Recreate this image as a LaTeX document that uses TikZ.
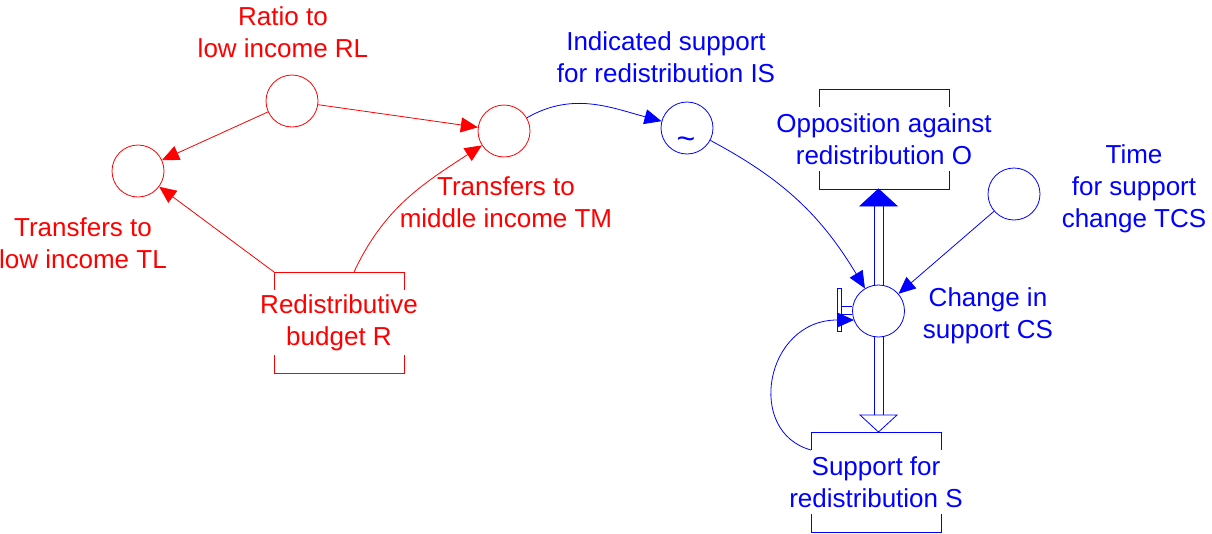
\documentclass[tikz,border=0pt]{standalone}
\usepackage{fontspec}
\setmainfont{Liberation Sans}
\usetikzlibrary{arrows.meta,calc}
\definecolor{myred}{RGB}{255,0,0}
\definecolor{myblue}{RGB}{0,0,255}
% #1 node, #2 colour, #3 half width, #4 half height
\newcommand{\drawstock}[4]{%
  \draw[#2, line width=0.8pt] ($(#1.center)+(-#3,#4-18)$) -- ($(#1.center)+(-#3,#4)$) -- ($(#1.center)+(#3,#4)$) -- ($(#1.center)+(#3,#4-18)$);
  \draw[#2, line width=0.8pt] ($(#1.center)+(-#3,-#4+18)$) -- ($(#1.center)+(-#3,-#4)$) -- ($(#1.center)+(#3,-#4)$) -- ($(#1.center)+(#3,-#4+18)$);
}
\begin{document}
\begin{tikzpicture}[x=1pt,y=1pt,
  every node/.style={font=\fontsize{26}{32}\selectfont, align=center, inner sep=0pt},
  aux/.style={circle, draw, minimum size=52pt, inner sep=0pt, fill=white, line width=0.8pt},
  conn/.style={line width=0.8pt, -{Triangle[length=17pt,width=15pt]}},
  redpart/.style={draw=myred, text=myred},
  bluepart/.style={draw=myblue, text=myblue},
  pipe/.style={draw=myblue, line width=0.8pt}
]
\useasboundingbox (0,0) rectangle (1212,-533);

% red part
\node[aux, redpart] (RL) at (292,-101) {};
\node[aux, redpart] (TL) at (138,-171) {};
\node[aux, redpart] (TM) at (504,-131) {};
\node[text=myred] (R) at (339,-322.5) {Redistributive\\budget R};
\drawstock{R}{myred}{65}{50.5}

\node[text=myred] (RLl) at (283,-32) {Ratio to\\low income RL};
\node[text=myred] (TLl) at (83,-243) {Transfers to\\low income TL};
\node[text=myred] (TMl) at (506,-202) {Transfers to\\middle income TM};

\coordinate (Rnw) at ($(R.center)+(-65,50.5)$);
\coordinate (Rtop) at ($(R.center)+(15,50.5)$);
\draw[conn, draw=myred] (RL) -- (TL);
\draw[conn, draw=myred] (RL) -- (TM);
\draw[conn, draw=myred] (Rnw) -- (TL);
\draw[conn, draw=myred] (Rtop) to[out=65, in=-147] (TM);

% blue part
\node[aux, bluepart] (IS) at (687,-128) {};
\node[text=myblue, font=\fontsize{32}{32}\selectfont] (tilde) at (686,-143) {\textasciitilde};
\node[aux, bluepart] (CS) at (878.5,-311) {};
\node[aux, bluepart] (TCS) at (1014,-194) {};
\node[text=myblue] (O) at (884,-139) {Opposition against\\redistribution O};
\drawstock{O}{myblue}{65}{50}
\node[text=myblue] (S) at (876,-482) {Support for\\redistribution S};
\drawstock{S}{myblue}{65}{50}

\node[text=myblue] (ISl) at (666,-57) {Indicated support\\for redistribution IS};
\node[text=myblue] (CSl) at (988,-316) {Change in\\support CS};
\node[text=myblue] (TCSl) at (1134,-189) {Time\\for support\\change TCS};

\draw[conn, draw=myblue] (TM) to[out=30, in=165] (IS);
\draw[conn, draw=myblue] (IS) to[out=-28, in=121] (CS);
\draw[conn, draw=myblue] (TCS) -- (CS);

% pipe up to O
\coordinate (otip) at ($(CS.center)+(0,122)$);
\draw[pipe] ($(CS.center)+(-4.5,25.6)$) -- ($(otip)+(-4.5,-17)$);
\draw[pipe] ($(CS.center)+(4.5,25.6)$) -- ($(otip)+(4.5,-17)$);
\filldraw[draw=myblue, fill=myblue, line width=0.8pt] ($(otip)+(-18.5,-17)$) -- (otip) -- ($(otip)+(18.5,-17)$) -- cycle;

% pipe down to S
\coordinate (stip) at ($(CS.center)+(0,-121)$);
\draw[pipe] ($(CS.center)+(-4.5,-25.6)$) -- ($(stip)+(-4.5,17)$);
\draw[pipe] ($(CS.center)+(4.5,-25.6)$) -- ($(stip)+(4.5,17)$);
\filldraw[draw=myblue, fill=white, line width=0.8pt] ($(stip)+(-18.5,17)$) -- (stip) -- ($(stip)+(18.5,17)$) -- cycle;

% valve
\draw[pipe] ($(CS.west)+(-14.5,23)$) rectangle ($(CS.west)+(-10.5,-20)$);
\draw[pipe] ($(CS.west)+(-10.5,5)$) -- ($(CS.west)+(0,5)$);
\draw[pipe] ($(CS.west)+(-10.5,-3)$) -- ($(CS.west)+(0,-3)$);

% loop from S to CS
\coordinate (Sstart) at ($(S.center)+(-65,32)$);
\coordinate (CSin) at ($(CS.center)+(-24.5,-9)$);
\draw[conn, draw=myblue] (Sstart) .. controls +(-66,18) and +(-89,0) .. (CSin);
\end{tikzpicture}
\end{document}
